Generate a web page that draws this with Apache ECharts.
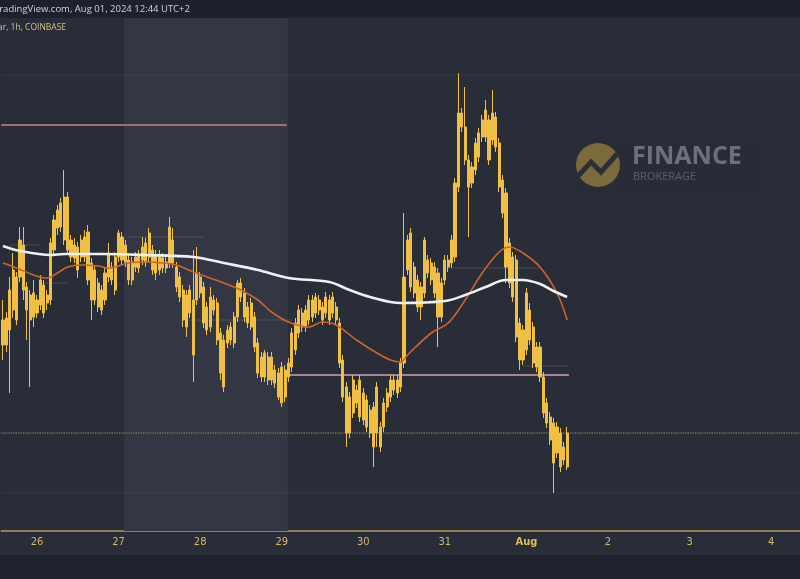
<!DOCTYPE html>
<html><head><meta charset="utf-8">
<script src="https://cdn.jsdelivr.net/npm/echarts@6/dist/echarts.min.js"></script>
<style>html,body{margin:0;padding:0;background:#292d38}#c{width:800px;height:579px}</style>
</head><body><div id="c"></div>
<script>
// ---- data (price units; axis labels are hidden in the reference) ----
const firstHour = -10;           // hours relative to Jul 26 00:00
const lastAxisHour = 224;        // axis extends to ~Aug 4 08:00
const dayLabels = ['26','27','28','29','30','31','Aug','2','3','4'];
const dayHours  = [0,24,48,72,96,120,144,168,192,216];
// hourly candles [open, close, low, high]
const candles = [
[280,255,240,300],[255,282,248,288],[270,310,207,323],[290,330,282,347],[323,280,275,328],
[323,360,318,373],[355,310,300,373],[313,290,260,318],[305,280,213,310],[283,307,273,320],
[300,287,282,305],[295,320,290,325],[315,287,282,320],[297,305,290,310],[300,357,295,362],
[350,380,345,385],[372,390,365,395],[373,397,368,402],[360,403,355,430],[403,350,345,408],
[343,360,338,365],[355,342,337,362],[353,330,322,358],[343,360,338,365],[343,363,338,370],
[368,320,315,375],[337,300,280,342],[300,330,295,335],[317,293,288,322],[290,310,285,315],
[300,327,295,332],[323,347,318,357],[333,320,315,338],[310,343,305,348],[343,367,338,370],
[363,340,335,368],[355,338,333,360],[340,320,315,345],[320,338,315,343],[333,343,328,348],
[345,332,327,350],[340,353,335,363],[338,357,333,362],[343,367,338,372],[350,330,325,355],
[327,345,320,350],[343,330,325,350],[332,342,327,347],[338,332,327,343],[337,373,332,383],
[360,337,332,372],[333,313,308,338],[323,303,298,328],[310,280,273,315],[273,305,263,310],
[310,287,282,315],[300,245,218,350],[300,327,295,353],[323,307,302,328],[313,277,272,318],
[293,270,265,298],[273,303,268,313],[300,290,285,305],[297,260,255,302],[267,227,220,272],
[260,213,208,265],[257,270,252,275],[260,273,255,278],[257,283,252,288],[283,317,278,320],
[317,303,298,322],[307,283,278,312],[293,277,272,298],[273,297,270,302],[283,253,248,288],
[257,227,222,262],[243,223,218,248],[223,247,218,250],[243,220,215,248],[220,243,215,248],
[230,217,212,235],[227,203,200,232],[197,233,193,238],[230,203,198,235],[223,237,218,242],
[233,267,228,272],[250,277,245,282],[267,290,262,295],[287,273,268,292],[273,290,268,295],
[280,300,275,305],[300,283,278,305],[287,303,282,307],[300,290,285,305],[293,280,275,298],
[287,303,282,308],[300,280,275,305],[287,303,282,308],[293,280,275,298],[277,237,232,282],
[240,203,198,245],[213,167,153,218],[167,203,162,208],[187,220,182,225],[210,197,192,215],
[183,220,178,225],[207,180,175,212],[200,173,168,205],[190,167,162,195],[193,153,133,198],
[167,213,153,218],[173,153,148,178],[173,197,168,202],[193,207,188,212],[203,220,198,225],
[220,210,205,225],[207,220,202,225],[213,237,208,242],[237,323,232,387],[330,360,325,365],
[367,313,308,372],[333,307,302,338],[320,293,288,325],[293,313,280,318],[307,360,302,363],
[340,327,322,345],[320,337,315,342],[333,307,302,338],[327,283,253,332],[283,317,278,322],
[320,340,315,345],[340,333,328,345],[337,360,332,365],[343,417,338,422],[413,487,408,527],
[487,473,468,492],[473,440,435,513],[440,413,363,445],[417,433,412,438],[430,457,425,462],
[443,467,438,472],[463,480,458,485],[463,490,458,500],[480,440,435,485],[460,487,455,510],
[483,453,448,488],[457,413,408,462],[420,387,382,425],[407,333,317,412],[357,317,312,362],
[303,343,298,348],[340,263,258,345],[277,240,230,282],[240,270,235,275],[250,307,245,312],
[290,260,255,297],[273,237,232,278],[253,233,228,258],[253,223,218,258],[223,187,182,228],
[197,177,172,202],[183,160,155,188],[177,137,107,182],[147,173,142,178],[167,133,128,172],
[140,153,135,158],[133,167,130,173]
];
// moving averages: [hour, value]
const maWhite = [[-10,354],[-5,349],[4,345],[8,346],[19,346],[32,345],[46,343],[55,337],[65,330],
 [74,322],[86,318],[92,310],[98,303],[107,297],[120,299],[126,305],[132,313],[138,320],[143,320],
 [148,316],[152,309],[156,303]];
const maOrange = [[-10,337],[-6,332],[-1,325],[3,322],[6,327],[9,333],[13,335],[18,334],[21,332],
 [27,337],[32,338],[37,337],[41,335],[46,328],[55,317],[60,310],[65,300],[69,288],[74,278],
 [80,273],[84,278],[88,275],[94,260],[100,247],[104,240],[107,238],[109,245],[116,267],[121,277],
 [126,300],[131,327],[136,348],[139,353],[143,347],[148,333],[153,307],[156,280]];
// horizontal levels: [fromHour, toHour, value]
const strongLevels = [[-10.5,73.5,475],[74.4,156.5,225]];
const dottedLevel = [-10.5,224.5,167];
const faintDotted = [[-10.5,224.5,525],[-10.5,224.5,107]];
const faintLevels = [[-8,1,355],[1,9,317],[27,49,363],[45,75,280],[120,148,332],[143,156.5,234]];
const shadedHours = [25.6,73.8];

// ---- chart ----
const hours = [];
for (let h = firstHour; h <= lastAxisHour; h++) hours.push(String(h));
const yellow = '#f0c044';

function seg(a, col, type, w, z){
  return {type:'line', xAxisIndex:1, yAxisIndex:0, data:[[a[0],a[2]],[a[1],a[2]]], symbol:'none',
    silent:true, z:z||2, lineStyle:{color:col, width:w, type:type}, animation:false};
}
const series = [];
const base = seg([-10.5,-10.5,0],'rgba(0,0,0,0)','solid',0,1);
base.markArea = {silent:true, itemStyle:{color:'#333744'}, data:[[{xAxis:shadedHours[0]},{xAxis:shadedHours[1]}]]};
series.push(base);
faintLevels.forEach(l=>series.push(seg(l,'rgba(150,150,160,0.3)','solid',1,2)));
faintDotted.forEach(l=>series.push(seg(l,'rgba(120,124,136,0.28)','dotted',1,2)));
series.push(seg(dottedLevel,'#a59667','dotted',1.2,2));
series.push(seg(strongLevels[0],'#a26f69','solid',2,3));
series.push(seg(strongLevels[1],'#a5868c','solid',2,3));
series.push({type:'candlestick', xAxisIndex:0, yAxisIndex:0, data:candles, barWidth:2.6, z:5,
  itemStyle:{color:yellow, color0:yellow, borderColor:yellow, borderColor0:yellow, borderWidth:1}, animation:false});
series.push({type:'line', xAxisIndex:1, yAxisIndex:0, data:maOrange, smooth:0.35, symbol:'none', z:6,
  lineStyle:{color:'#d0632c', width:1.6}, animation:false});
series.push({type:'line', xAxisIndex:1, yAxisIndex:0, data:maWhite, smooth:0.35, symbol:'none', z:7,
  lineStyle:{color:'#eef0f4', width:2.6}, animation:false});

const chart = echarts.init(document.getElementById('c'), null, {renderer:'canvas'});
chart.setOption({
  backgroundColor:'#292d38',
  animation:false,
  grid:{left:1.3, top:18, width:799, height:513},
  xAxis:[
    {type:'category', data:hours, boundaryGap:true, position:'bottom',
     axisLine:{lineStyle:{color:'#b7994b', width:1.5}}, axisTick:{show:false}, splitLine:{show:false},
     axisLabel:{margin:6, color:'#d6b862', fontSize:11, fontFamily:'Liberation Sans Narrow, DejaVu Sans Condensed, sans-serif',
       interval:function(i, v){ return dayHours.indexOf(+v) >= 0; },
       formatter:function(v){ const k = dayHours.indexOf(+v); if (k < 0) return ''; const t = dayLabels[k]; return t === 'Aug' ? '{b|Aug}' : t; },
       rich:{b:{fontWeight:'bold', color:'#e0bf5a', fontSize:11, fontFamily:'Liberation Sans Narrow, DejaVu Sans Condensed, sans-serif'}}}},
    {type:'value', min:-10.5, max:224.5, show:false, splitLine:{show:false}}
  ],
  yAxis:[{type:'value', min:69, max:582, show:false, splitLine:{show:false}}],
  series:series,
  graphic:[
    {type:'rect', shape:{x:0,y:0,width:800,height:18}, style:{fill:'#1e212b'}, z:10, silent:true},
    {type:'text', x:-6, y:9, style:{text:'TradingView.com, Aug 01, 2024 12:44 UTC+2', fill:'#cfd2da', font:'9.5px "Open Sans", sans-serif', verticalAlign:'middle'}, z:11},
    {type:'text', x:-2, y:28, style:{text:'ar, 1h, COINBASE', fill:'#d8c27a', font:'8.5px "Open Sans", sans-serif', verticalAlign:'middle'}, z:11},
    {type:'rect', shape:{x:0,y:555,width:800,height:24}, style:{fill:'#1f232d'}, z:10, silent:true},
    {type:'rect', shape:{x:570,y:137,width:195,height:58,r:3}, style:{fill:'rgba(40,44,55,0.9)'}, z:1, silent:true},
    {type:'circle', shape:{cx:598,cy:165,r:22}, style:{fill:'#7b6b3a'}, z:2, silent:true},
    {type:'polyline', shape:{points:[[578,176],[591,162],[601,172],[617,154]]}, style:{stroke:'#2b2f3a', lineWidth:5, fill:null}, z:3, silent:true},
    {type:'text', x:632, y:157, style:{text:'FINANCE', fill:'#6c707b', font:'bold 25px "Open Sans", sans-serif', verticalAlign:'middle'}, z:3},
    {type:'text', x:633, y:177, style:{text:'BROKERAGE', fill:'#5b5f69', font:'11px "Open Sans", sans-serif', verticalAlign:'middle'}, z:3}
  ]
});
</script></body></html>
